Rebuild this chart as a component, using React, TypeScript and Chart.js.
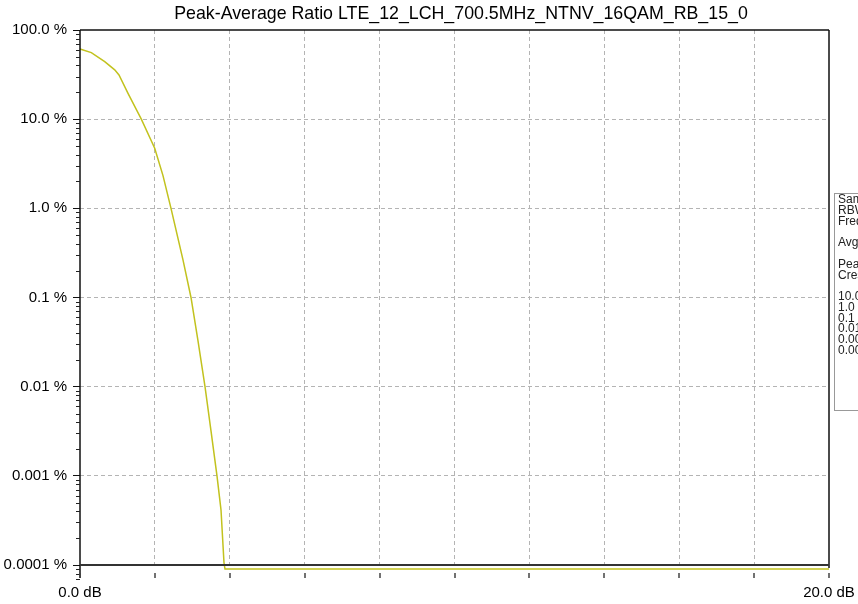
import React, { useEffect, useRef } from "react";
import { Chart, registerables } from "chart.js";

Chart.register(...registerables);

const CHART_TITLE = "Peak-Average Ratio LTE_12_LCH_700.5MHz_NTNV_16QAM_RB_15_0";

// CCDF curve: power above average (dB) vs probability (%)
const levelDb = [0, 0.302, 0.66, 0.927, 1.041, 1.282, 1.637, 1.995, 2.216, 2.43, 2.75, 2.964, 3.151, 3.338, 3.498, 3.658, 3.765, 3.845, 3.872, 20];
const ccdfPercent = [61.3, 55.7, 44.2, 35.7, 31.3, 19.5, 10, 4.72, 2.33, 1.0, 0.264, 0.1, 0.0326, 0.01, 0.00319, 0.001, 0.000416, 0.000106, 0.00009, 0.00009];

const xTickValues = [0, 2, 4, 6, 8, 10, 12, 14, 16, 18, 20];
const xTickLabels = ["0.0 dB", "", "", "", "", "", "", "", "", "", "20.0 dB"];
const yTickValues = [100, 10, 1, 0.1, 0.01, 0.001, 0.0001];
const yTickLabels = ["100.0 %", "10.0 %", "1.0 %", "0.1 %", "0.01 %", "0.001 %", "0.0001 %"];

const infoLines = [
  "Samples: 1000000",
  "RBW: 10.00 MHz",
  "Freq: 700.500 MHz",
  "",
  "Avg Power: -20.35 dBm",
  "",
  "Peak Power: -16.40 dBm",
  "Crest Factor: 3.95 dB",
  "",
  "10.0 %: 1.64 dB",
  "1.0 %: 2.43 dB",
  "0.1 %: 2.96 dB",
  "0.01 %: 3.34 dB",
  "0.001 %: 3.66 dB",
  "0.0001 %: 3.85 dB",
];

const FONT = "'Liberation Sans', Arial, Helvetica, sans-serif";
const LINE_COLOR = "#c2c21e";
const GRID_COLOR = "#b4b4b4";

export default function App() {
  const ref = useRef<HTMLCanvasElement | null>(null);

  useEffect(() => {
    document.body.style.margin = "0";
    const canvas = ref.current;
    if (!canvas) return;

    const decor = {
      id: "decor",
      afterDraw(chart: any) {
        const ctx = chart.ctx as CanvasRenderingContext2D;
        const { left, right, top, bottom } = chart.chartArea;
        const xs = chart.scales.x;
        const ys = chart.scales.y;
        ctx.save();

        // title
        ctx.fillStyle = "#000";
        ctx.font = `17.8px ${FONT}`;
        ctx.textAlign = "center";
        ctx.textBaseline = "middle";
        ctx.fillText(CHART_TITLE, 461, 14);

        // frame
        ctx.strokeStyle = "#111";
        ctx.lineWidth = 1.5;
        ctx.beginPath();
        ctx.moveTo(left, top);
        ctx.lineTo(right, top);
        ctx.moveTo(left, top);
        ctx.lineTo(left, bottom + 13);
        ctx.moveTo(right, top);
        ctx.lineTo(right, bottom + 3);
        ctx.stroke();

        // bottom reference line at lowest decade
        ctx.strokeStyle = "#333";
        ctx.lineWidth = 2;
        ctx.beginPath();
        ctx.moveTo(left, bottom);
        ctx.lineTo(right, bottom);
        ctx.stroke();

        // minor y ticks
        ctx.strokeStyle = "#222";
        ctx.lineWidth = 1;
        ctx.beginPath();
        for (let d = -5; d < 2; d++) {
          for (let k = 2; k <= 9; k++) {
            const v = k * Math.pow(10, d);
            if (v < 7e-5 || v > 100) continue;
            const py = Math.round(ys.getPixelForValue(v)) + 0.5;
            ctx.moveTo(left - 4, py);
            ctx.lineTo(left, py);
          }
        }
        ctx.stroke();

        // x tick marks below the axis
        ctx.strokeStyle = "#444";
        ctx.lineWidth = 1.5;
        ctx.beginPath();
        xTickValues.forEach((v) => {
          const px = Math.round(xs.getPixelForValue(v));
          ctx.moveTo(px, bottom + 8);
          ctx.lineTo(px, bottom + 13);
        });
        ctx.stroke();

        // info box (clipped by canvas edge)
        const bx = 834, by = 193, bw = 200, bh = 217;
        ctx.fillStyle = "#fff";
        ctx.fillRect(bx, by, bw, bh);
        ctx.strokeStyle = "#999";
        ctx.lineWidth = 1;
        ctx.strokeRect(bx + 0.5, by + 0.5, bw, bh);
        ctx.fillStyle = "#222";
        ctx.font = `12px ${FONT}`;
        ctx.textAlign = "left";
        ctx.textBaseline = "middle";
        infoLines.forEach((t, i) => {
          if (t) ctx.fillText(t, 838, 200 + i * 10.75);
        });

        ctx.restore();
      },
    };

    const chart = new Chart(canvas, {
      type: "line",
      data: {
        datasets: [
          {
            data: levelDb.map((x, i) => ({ x, y: ccdfPercent[i] })),
            borderColor: LINE_COLOR,
            borderWidth: 1.5,
            pointRadius: 0,
            tension: 0,
            fill: false,
            clip: false as any,
          },
        ],
      },
      options: {
        responsive: false,
        animation: false,
        devicePixelRatio: 1,
        layout: { padding: { top: 30, right: 29, left: 0, bottom: 0 } },
        plugins: {
          legend: { display: false },
          tooltip: { enabled: false },
          title: { display: false },
        },
        scales: {
          x: {
            type: "linear",
            min: 0,
            max: 20,
            afterBuildTicks: (s: any) => {
              s.ticks = xTickValues.map((v) => ({ value: v }));
            },
            afterFit: (s: any) => {
              s.height = 39;
              s.paddingLeft = 0;
              s.paddingRight = 0;
            },
            ticks: {
              autoSkip: false,
              maxRotation: 0,
              padding: 19,
              color: "#000",
              font: { family: FONT, size: 15 },
              callback: (_v: any, i: number) => xTickLabels[i] ?? "",
            },
            grid: {
              drawTicks: false,
              lineWidth: 1,
              color: (c: any) =>
                c.tick && (c.tick.value === 0 || c.tick.value === 20) ? "rgba(0,0,0,0)" : GRID_COLOR,
            },
            border: { display: false, dash: [4, 3] },
          },
          y: {
            type: "logarithmic",
            min: 0.0001,
            max: 100,
            afterBuildTicks: (s: any) => {
              s.ticks = yTickValues.map((v) => ({ value: v }));
            },
            afterFit: (s: any) => {
              s.width = 80;
              s.paddingTop = 0;
              s.paddingBottom = 0;
            },
            ticks: {
              autoSkip: false,
              padding: 6,
              color: "#000",
              font: { family: FONT, size: 15 },
              callback: (_v: any, i: number) => yTickLabels[i] ?? "",
            },
            grid: {
              drawTicks: true,
              tickLength: 7,
              tickColor: "#111",
              tickWidth: 1,
              tickBorderDash: [],
              lineWidth: 1,
              color: (c: any) =>
                c.tick && (c.tick.value === 100 || c.tick.value === 0.0001) ? "rgba(0,0,0,0)" : GRID_COLOR,
            },
            border: { display: false, dash: [4, 3] },
          },
        },
      } as any,
      plugins: [decor],
    });

    return () => chart.destroy();
  }, []);

  return <canvas ref={ref} width={858} height={604} style={{ display: "block" }} />;
}
